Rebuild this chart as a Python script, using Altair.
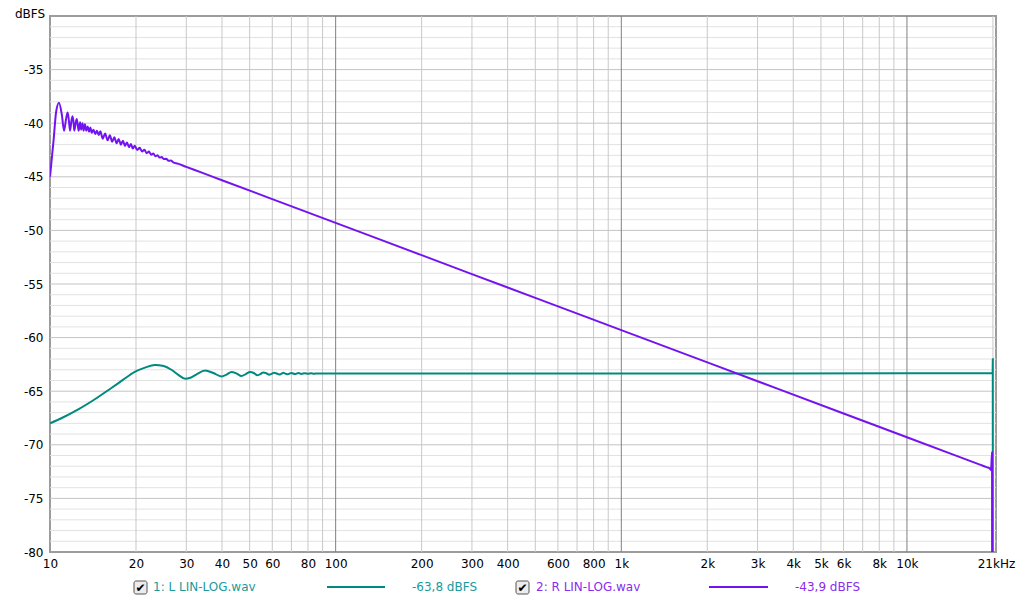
import altair as alt
import pandas as pd

# ---------------- data ----------------
teal_freq = [10, 11, 12.56, 14, 16.4, 18, 19.8, 21.5, 23.3, 25, 26.6, 28.2, 29.8, 31, 32.5,
             34.9, 37.3, 39.8, 41.5, 43.2, 45, 46.8, 48.5, 50.1, 51.7, 53.2, 54.5, 55.8,
             57.2, 58.5, 59.7, 60.9, 62.2, 63.5, 64.5, 65.6, 66.7, 67.8, 70, 72, 74, 76,
             78, 80, 82, 84, 86, 88, 100, 1000, 10000, 19900, 19955, 19975, 19985]
teal_db = [-68.0, -67.5, -66.7, -65.94, -64.7, -63.95, -63.2, -62.8, -62.55, -62.65, -63.0,
           -63.5, -63.85, -63.75, -63.45, -63.08, -63.3, -63.62, -63.45, -63.2, -63.35,
           -63.58, -63.4, -63.2, -63.3, -63.52, -63.4, -63.25, -63.33, -63.46, -63.38,
           -63.28, -63.35, -63.44, -63.38, -63.29, -63.36, -63.43, -63.30, -63.40, -63.31,
           -63.39, -63.32, -63.38, -63.33, -63.37, -63.34, -63.36, -63.35, -63.35, -63.33,
           -63.33, -63.2, -62.0, -85.0]

purple_freq = [10, 10.3, 10.5, 10.75, 11.0, 11.2, 11.4, 11.53, 11.65, 11.75, 11.9, 12.0,
               12.1, 12.16, 12.3, 12.4, 12.5, 12.6, 12.75, 12.85, 13.0, 13.1, 13.25, 13.4,
               13.55, 13.7, 13.85, 14.0, 14.2, 14.4, 14.6, 14.8,
               15.0, 15.3, 15.6, 15.9, 16.2, 16.5, 16.8, 17.1, 17.4, 17.7, 18.0, 18.3,
               18.6, 18.9, 19.2, 19.5, 19.8, 20.2, 20.6, 21.0, 21.4, 21.8, 22.2, 22.6,
               23.0, 23.4, 23.8, 24.2, 24.6, 25.0, 25.5, 26.0, 26.5, 27.0, 28.0,
               30, 34, 40, 60, 100, 200, 500, 1000, 3000, 6000, 10000, 15000, 18000, 19000,
               19500, 19700, 19860, 19875]
purple_db = [-45.0, -41.5, -39.0, -38.1, -39.2, -40.7, -39.5, -39.0, -39.8, -40.7, -39.7,
             -39.35, -40.0, -40.7, -40.0, -39.6, -40.1, -40.7, -39.9, -40.6, -40.0, -40.7,
             -40.1, -40.7, -40.3, -40.8, -40.4, -40.9, -40.6, -41.0, -40.7, -41.1,
             -40.76, -41.45, -40.95, -41.6, -41.13, -41.74, -41.3, -41.87, -41.47, -42.0,
             -41.63, -42.13, -41.79, -42.25, -41.95, -42.37, -42.1, -42.5, -42.3, -42.65,
             -42.47, -42.8, -42.65, -42.94, -42.83, -43.08, -42.99, -43.21, -43.15, -43.34,
             -43.32, -43.5, -43.49, -43.65, -43.77,
             -44.07, -44.61, -45.32, -47.08, -49.3, -52.31, -56.3, -59.3, -64.07, -67.08,
             -69.3, -71.06, -71.85, -72.08, -72.2, -72.35, -70.7, -85.0]

x_tick_values = [10, 20, 30, 40, 50, 60, 80, 100, 200, 300, 400, 600, 800, 1000, 2000,
                 3000, 4000, 5000, 6000, 8000, 10000, 20500]
y_tick_values = [-35, -40, -45, -50, -55, -60, -65, -70, -75, -80]
x_grid_minor = [20, 30, 40, 50, 60, 70, 80, 90, 200, 300, 400, 500, 600, 700, 800, 900,
                2000, 3000, 4000, 5000, 6000, 7000, 8000, 9000, 20000]
x_grid_major = [100, 1000, 10000]
y_grid_minor = [v for v in range(-79, -30) if v % 5 != 0]
y_grid_major = [-75, -70, -65, -60, -55, -50, -45, -40, -35]

series_names = ["1: L LIN-LOG.wav", "2: R LIN-LOG.wav"]
series_levels = ["-63,8 dBFS", "-43,9 dBFS"]
y_unit = ["dBFS"]

# ---------------- styling ----------------
TEAL = "#00897f"
TEAL_TXT = "#1a9a9a"
PURPLE = "#7314f0"
PURPLE_TXT = "#8a2cf0"
FONT = "DejaVu Sans"

W, H = 946, 536
xscale = alt.Scale(type="log", domain=[10, 20500], nice=False)
yscale = alt.Scale(domain=[-80, -30], nice=False, zero=False)

label_expr = ("datum.value > 20000 ? '21kHz' : (datum.value >= 1000 ? "
              "(datum.value / 1000) + 'k' : datum.value + '')")

x_axis = alt.Axis(values=x_tick_values, labelExpr=label_expr, grid=False, ticks=False,
                  domain=False, labelFlush=False, labelOverlap=False, labelPadding=6,
                  labelFontSize=12, labelFont=FONT, labelColor="#000", title=None)
y_axis = alt.Axis(values=y_tick_values, labelExpr="datum.value + ''", grid=False,
                  ticks=False, domain=False, labelFlush=False, labelOverlap=False,
                  labelPadding=7, labelFontSize=12, labelFont=FONT, labelColor="#000",
                  title=None)


def X(field):
    return alt.X(field, type="quantitative", scale=xscale, axis=x_axis)


def Y(field):
    return alt.Y(field, type="quantitative", scale=yscale, axis=y_axis)


teal_df = pd.DataFrame({"f": teal_freq, "db": teal_db})
purple_df = pd.DataFrame({"f": purple_freq, "db": purple_db})

layers = []
layers.append(alt.Chart(pd.DataFrame({"v": y_grid_minor})).mark_rule(
    color="#e2e2e2", strokeWidth=1).encode(y=Y("v")))
layers.append(alt.Chart(pd.DataFrame({"v": y_grid_major})).mark_rule(
    color="#c4c4c4", strokeWidth=1).encode(y=Y("v")))
layers.append(alt.Chart(pd.DataFrame({"f": x_grid_minor})).mark_rule(
    color="#c8c8c8", strokeWidth=1).encode(x=X("f")))
layers.append(alt.Chart(pd.DataFrame({"f": x_grid_major})).mark_rule(
    color="#808080", strokeWidth=1).encode(x=X("f")))

layers.append(alt.Chart(teal_df).mark_line(
    color=TEAL, strokeWidth=2, interpolate="monotone", clip=True).encode(
    x=X("f"), y=Y("db"), order="f:Q"))
layers.append(alt.Chart(purple_df).mark_line(
    color=PURPLE, strokeWidth=2, interpolate="monotone", clip=True).encode(
    x=X("f"), y=Y("db"), order="f:Q"))

# unit label
layers.append(alt.Chart(pd.DataFrame({"t": y_unit})).mark_text(
    align="left", baseline="top", fontSize=12, font=FONT, color="#000").encode(
    x=alt.value(-35), y=alt.value(-7), text="t:N"))

# legend row
LY = 571
for i, (bx, tx, lx1, lx2, vx, col, tcol) in enumerate([
        (84, 103, 277, 335, 362, TEAL, TEAL_TXT),
        (466, 486, 659, 718, 745, PURPLE, PURPLE_TXT)]):
    one = pd.DataFrame({"name": [series_names[i]], "level": [series_levels[i]],
                        "chk": ["\u2714"]})
    base = alt.Chart(one)
    layers.append(base.mark_rect(fill="#ececec", stroke="#555555", strokeWidth=1,
                                 cornerRadius=2).encode(
        x=alt.value(bx), x2=alt.value(bx + 13), y=alt.value(LY - 6), y2=alt.value(LY + 7)))
    layers.append(base.mark_text(align="center", baseline="middle", fontSize=12,
                                 font=FONT, color="#000").encode(
        x=alt.value(bx + 6.5), y=alt.value(LY + 0.5), text="chk:N"))
    layers.append(base.mark_text(align="left", baseline="middle", fontSize=12,
                                 font=FONT, color=tcol).encode(
        x=alt.value(tx), y=alt.value(LY), text="name:N"))
    layers.append(base.mark_rule(color=col, strokeWidth=2).encode(
        x=alt.value(lx1), x2=alt.value(lx2), y=alt.value(LY)))
    layers.append(base.mark_text(align="left", baseline="middle", fontSize=12,
                                 font=FONT, color=tcol).encode(
        x=alt.value(vx), y=alt.value(LY), text="level:N"))

chart = alt.layer(*layers).properties(
    width=W, height=H,
    autosize=alt.AutoSizeParams(type="none"),
    padding={"left": 42, "top": 8, "right": 20, "bottom": 44},
    background="#ffffff",
).configure_view(stroke="#9c9c9c", strokeWidth=2)

chart.save("out.html", embed_options={"renderer": "svg", "actions": False})
